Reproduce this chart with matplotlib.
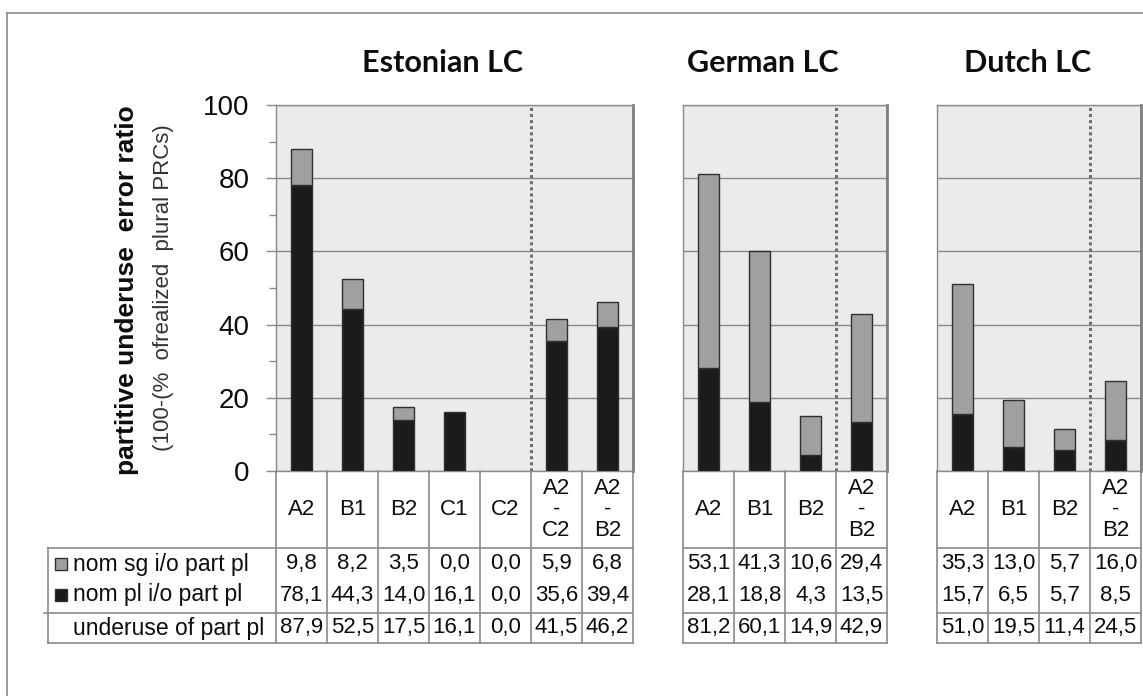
import matplotlib
matplotlib.use('Agg')
import matplotlib.pyplot as plt
from matplotlib.patches import Rectangle
from matplotlib.lines import Line2D

# Error ratios per learner corpus and proficiency level
est_levels = ['A2', 'B1', 'B2', 'C1', 'C2', 'A2\n-\nC2', 'A2\n-\nB2']
est_sg = [9.8, 8.2, 3.5, 0.0, 0.0, 5.9, 6.8]
est_pl = [78.1, 44.3, 14.0, 16.1, 0.0, 35.6, 39.4]
est_total = [87.9, 52.5, 17.5, 16.1, 0.0, 41.5, 46.2]

ger_levels = ['A2', 'B1', 'B2', 'A2\n-\nB2']
ger_sg = [53.1, 41.3, 10.6, 29.4]
ger_pl = [28.1, 18.8, 4.3, 13.5]
ger_total = [81.2, 60.1, 14.9, 42.9]

dut_levels = ['A2', 'B1', 'B2', 'A2\n-\nB2']
dut_sg = [35.3, 13.0, 5.7, 16.0]
dut_pl = [15.7, 6.5, 5.7, 8.5]
dut_total = [51.0, 19.5, 11.4, 24.5]

titles = ['Estonian LC', 'German LC', 'Dutch LC']
row_labels = ['nom sg i/o part pl', 'nom pl i/o part pl', 'underuse of part pl']

W, H = 1143, 696
fig = plt.figure(figsize=(W / 100, H / 100), dpi=100)

DARK = '#1b1b1b'
LIGHT = '#a0a0a0'
GRID = '#8a8a8a'
TXT = ['Liberation Sans', 'DejaVu Sans']
INK = '#0d0d0d'
CELL_FS = 16

# outer frame (only top and left edges fall inside the canvas)
fig.add_artist(Line2D([7 / W, 7 / W], [0, 1 - 13 / H], color='#8a8a8a', lw=1.2))
fig.add_artist(Line2D([7 / W, 1], [1 - 13 / H, 1 - 13 / H], color='#8a8a8a', lw=1.2))

top, bot = 105, 471
plot_h = bot - top
# table rows below the plot, in axes fractions
y_cat = -77 / plot_h
y_mid = -(613 - bot) / plot_h
y_end = -(643 - bot) / plot_h
y_sg = -(564 - bot) / plot_h
y_pl = -(595 - bot) / plot_h
y_tot = -(628 - bot) / plot_h


def fmt(v):
    return f'{v:.1f}'.replace('.', ',')


def panel(x0, x1, levels, sg, pl, total, n_single, title, title_x, first=False):
    ax = fig.add_axes([x0 / W, 1 - bot / H, (x1 - x0) / W, plot_h / H])
    n = len(levels)
    x = list(range(n))
    ax.set_facecolor('#ebebeb')
    ax.set_xlim(-0.5, n - 0.5)
    ax.set_ylim(0, 100)
    ax.set_axisbelow(True)
    ax.yaxis.grid(True, color=GRID, lw=1)
    ax.set_yticks([0, 20, 40, 60, 80, 100])
    ax.set_xticks([])
    for s in ax.spines.values():
        s.set_color(GRID)
        s.set_linewidth(1)
    ax.spines['right'].set_linewidth(2)
    ax.spines['right'].set_color('#7c7c7c')

    # hide outlines of empty segments
    lw_pl = [1 if v > 0 else 0 for v in pl]
    lw_sg = [1 if v > 0 else 0 for v in sg]
    ax.bar(x, pl, 0.4, color=DARK, edgecolor='#303030', lw=lw_pl, zorder=3)
    ax.bar(x, sg, 0.4, bottom=pl, color=LIGHT, edgecolor='#303030', lw=lw_sg, zorder=3)
    ax.axvline(n_single - 0.5, color='#6e6e6e', ls=(0, (1, 1)), lw=2.2, zorder=4)

    if first:
        ax.set_yticks([10, 30, 50, 70, 90], minor=True)
        ax.tick_params(axis='y', which='major', length=7.2, color=GRID, pad=12,
                       labelsize=20, width=1, labelcolor=INK)
        ax.tick_params(axis='y', which='minor', length=5, color=GRID, width=1)
        for lab in ax.get_yticklabels():
            lab.set_family(TXT)
    else:
        ax.tick_params(axis='y', which='both', length=0, labelleft=False)

    ax.text(title_x, 1.115, title, transform=ax.transAxes, ha='center', va='center',
            fontsize=22, fontweight='bold', family=['Lato', 'DejaVu Sans'], color=INK)

    tr = ax.get_xaxis_transform()
    lk = dict(transform=tr, clip_on=False, color=GRID, lw=1.2)
    for k in range(n + 1):
        ax.plot([k - 0.5, k - 0.5], [0, y_end], **lk)
    left = -0.5
    if first:
        left = -0.5 - (276 - 48) / 51
    ax.plot([left, n - 0.5], [y_cat, y_cat], **lk)
    ax.plot([left - (0.08 if first else 0), n - 0.5], [y_mid, y_mid], **lk)
    ax.plot([left, n - 0.5], [y_end, y_end], **lk)
    if first:
        ax.plot([left, left], [y_cat, y_end], **lk)

    for i in x:
        ax.text(i, y_cat / 2, levels[i], transform=tr, ha='center', va='center',
                fontsize=CELL_FS, linespacing=1.0, family=TXT, color=INK)
        ax.text(i, y_sg, fmt(sg[i]), transform=tr, ha='center', va='center',
                fontsize=CELL_FS, family=TXT, color=INK)
        ax.text(i, y_pl, fmt(pl[i]), transform=tr, ha='center', va='center',
                fontsize=CELL_FS, family=TXT, color=INK)
        ax.text(i, y_tot, fmt(total[i]), transform=tr, ha='center', va='center',
                fontsize=CELL_FS, family=TXT, color=INK)

    if first:
        tx = -0.5 - (276 - 73) / 51
        for ypos, lab in zip([y_sg, y_pl, y_tot], row_labels):
            ax.text(tx, ypos, lab, transform=tr, ha='left', va='center',
                    fontsize=16.5, family=TXT, color=INK)
        sq = 12 / 51
        sqh = 12 / plot_h
        for ypos, col in zip([y_sg, y_pl], [LIGHT, DARK]):
            ax.add_patch(Rectangle((-0.5 - (276 - 55) / 51, ypos - sqh / 2), sq, sqh,
                                   transform=tr, clip_on=False, facecolor=col,
                                   edgecolor='#303030', lw=1))
    return ax


panel(276, 633, est_levels, est_sg, est_pl, est_total, 5, titles[0], 0.465, first=True)
panel(683, 887, ger_levels, ger_sg, ger_pl, ger_total, 3, titles[1], 0.392)
panel(937, 1141, dut_levels, dut_sg, dut_pl, dut_total, 3, titles[2], 0.443)

# y axis caption
fig.text(127 / W, 1 - 290 / H, 'partitive underuse  error ratio', rotation=90,
         ha='center', va='center', fontsize=19, fontweight='heavy', color=INK,
         family=['Liberation Sans Narrow', 'Liberation Sans', 'DejaVu Sans'])
fig.text(163 / W, 1 - 288 / H, '(100-(%  ofrealized  plural PRCs)', rotation=90,
         ha='center', va='center', fontsize=16, color='#333333',
         family=['Liberation Sans Narrow', 'Liberation Sans', 'DejaVu Sans'])

fig.savefig('out.png', dpi=100, facecolor='white')
